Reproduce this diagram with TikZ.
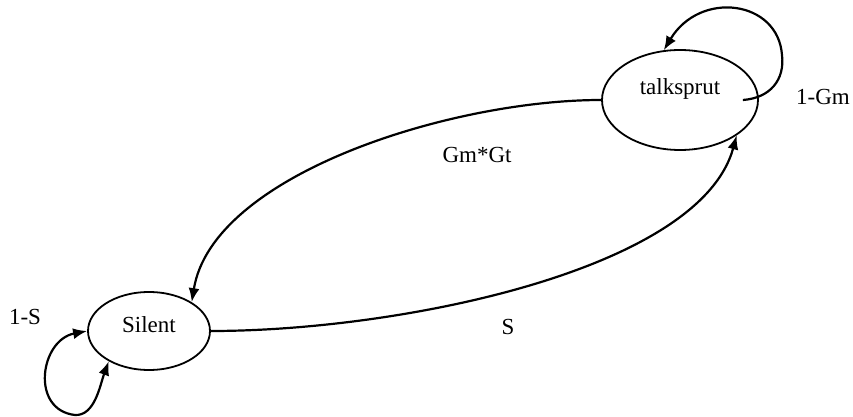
\documentclass[tikz,border=0pt]{standalone}
\usepackage{fontspec}
\setmainfont{Liberation Serif}
\usetikzlibrary{shapes.geometric,arrows.meta}
\begin{document}
\begin{tikzpicture}[x=.5pt,y=-.5pt,
  state/.style={draw,ellipse,line width=.9pt,inner sep=0pt},
  arc/.style={line width=1.1pt,-{Latex[length=7pt,width=5.5pt]}},
  font=\fontsize{11.5}{13}\selectfont]
 \useasboundingbox (0,0) rectangle (853,417);
 \node[state,minimum width=78pt,minimum height=50pt,text depth=13pt] (talk) at (680,100) {talksprut};
 \node[state,minimum width=61pt,minimum height=39pt,text depth=6pt] (silent) at (149,331) {Silent};
 \coordinate (talkloop) at ([xshift=-8pt]talk.east);
 \draw[arc] (talk.west) .. controls (450,100) and (212,175) .. (silent.34);
 \draw[arc] (silent.east) .. controls (400,331) and (700,270) .. (talk.-32);
 \draw[arc] (talkloop) .. controls (770,98) and (785,80) .. (782,55) .. controls (778,0) and (700,-10) .. (talk.108);
 \draw[arc,{Latex[length=7pt,width=5.5pt]}-{Latex[length=7pt,width=5.5pt]}] (silent.west) .. controls (40,340) and (30,410) .. (75,415) .. controls (95,416) and (100,385) .. (silent.-143);
 \node (gmgt) at (477,155) {Gm*Gt}; \node (s) at (508,327) {S};
 \node (gm) at (823,97) {1-Gm}; \node (ones) at (25,317) {1-S};
\end{tikzpicture}
\end{document}
